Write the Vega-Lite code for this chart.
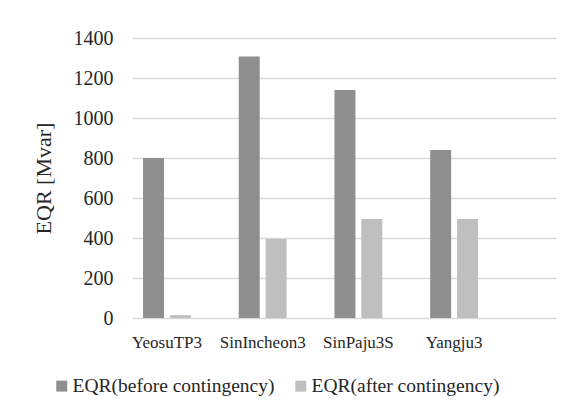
{
  "$schema": "https://vega.github.io/schema/vega-lite/v6.json",
  "width": 424,
  "height": 280,
  "autosize": {"type": "none"},
  "padding": {"left": 132, "top": 38, "right": 23, "bottom": 98},
  "background": "white",
  "config": {
    "view": {"stroke": null},
    "font": "Liberation Serif",
    "text": {"font": "Liberation Serif"}
  },
  "data": {
    "values": [
      {"station": "YeosuTP3", "series": "EQR(before contingency)", "value": 800},
      {"station": "YeosuTP3", "series": "EQR(after contingency)", "value": 14},
      {"station": "SinIncheon3", "series": "EQR(before contingency)", "value": 1308},
      {"station": "SinIncheon3", "series": "EQR(after contingency)", "value": 395},
      {"station": "SinPaju3S", "series": "EQR(before contingency)", "value": 1140},
      {"station": "SinPaju3S", "series": "EQR(after contingency)", "value": 495},
      {"station": "Yangju3", "series": "EQR(before contingency)", "value": 840},
      {"station": "Yangju3", "series": "EQR(after contingency)", "value": 495}
    ]
  },
  "mark": {"type": "bar", "stroke": null},
  "encoding": {
    "x": {
      "field": "station",
      "type": "nominal",
      "sort": null,
      "scale": {"paddingInner": 0.5, "paddingOuter": 0.465, "align": 0.124},
      "axis": {"title": null, "labelAngle": 0, "labelFont": "Liberation Serif", "labelFontSize": 17, "labelColor": "#262626", "labelPadding": 16, "ticks": false, "domain": false, "grid": false, "labelOverlap": false, "labelLimit": 0}
    },
    "xOffset": {
      "field": "series",
      "type": "nominal",
      "sort": ["EQR(before contingency)", "EQR(after contingency)"],
      "scale": {"paddingInner": 0.22, "paddingOuter": 0}
    },
    "y": {
      "field": "value",
      "type": "quantitative",
      "scale": {"domain": [0, 1400], "nice": false},
      "axis": {"title": "EQR [Mvar]", "titleFont": "Liberation Serif", "titleColor": "#262626", "titleFontSize": 22, "titleFontWeight": "normal", "titlePadding": 18, "labelFont": "Liberation Serif", "labelColor": "#262626", "labelFontSize": 20, "labelPadding": 19, "values": [0,200,400,600,800,1000,1200,1400], "format": "d", "labelOverlap": false, "ticks": false, "domain": false, "gridColor": "#d9d9d9", "gridWidth": 1.3}
    },
    "color": {
      "field": "series",
      "type": "nominal",
      "sort": ["EQR(before contingency)", "EQR(after contingency)"],
      "scale": {"range": ["#8f8f8f", "#bfbfbf"]},
      "legend": {"title": null, "orient": "none", "direction": "horizontal", "legendX": -80, "legendY": 338, "symbolType": "square", "symbolSize": 120, "symbolStrokeWidth": 0, "labelFont": "Liberation Serif", "labelFontSize": 19.5, "labelColor": "#262626", "labelLimit": 0, "columnPadding": 16, "labelOffset": 1}
    }
  }
}
